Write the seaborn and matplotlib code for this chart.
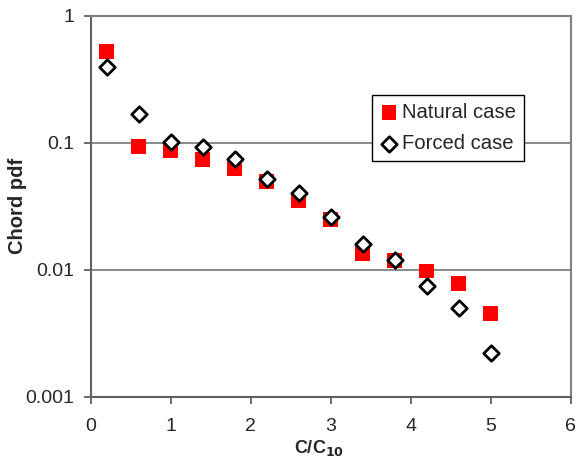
import matplotlib
matplotlib.use("Agg")
import matplotlib.pyplot as plt
import seaborn as sns
import pandas as pd
from matplotlib.ticker import FixedLocator, FixedFormatter, NullLocator

x_vals = [0.2, 0.6, 1.0, 1.4, 1.8, 2.2, 2.6, 3.0, 3.4, 3.8, 4.2, 4.6, 5.0]
natural = [0.527, 0.093, 0.0865, 0.0744, 0.063, 0.0494, 0.0353, 0.0251, 0.0135, 0.0118, 0.0098, 0.00786, 0.00456]
forced = [0.397, 0.170, 0.102, 0.093, 0.074, 0.0518, 0.0405, 0.0259, 0.0159, 0.0119, 0.00753, 0.0050, 0.00223]
series_names = ["Natural case", "Forced case"]
y_ticks = [0.001, 0.01, 0.1, 1]
y_tick_labels = ["0.001", "0.01", "0.1", "1"]
x_ticks = [0, 1, 2, 3, 4, 5, 6]

df = pd.concat([
    pd.DataFrame({"x": x_vals, "y": natural, "case": series_names[0]}),
    pd.DataFrame({"x": x_vals, "y": forced, "case": series_names[1]}),
])

sns.set_style("white")
plt.rcParams["font.family"] = ["Liberation Sans", "DejaVu Sans"]

fig = plt.figure(figsize=(5.76, 4.63), dpi=100)
ax = fig.add_axes([0.1575, 0.1426, 0.9910 - 0.1575, 0.966 - 0.1426])

ax.set_yscale("log")
ax.set_ylim(0.001, 1)
ax.set_xlim(0, 6)

for yv in [0.01, 0.1]:
    ax.axhline(yv, color="#808080", lw=1.3, zorder=0)

sns.scatterplot(data=df[df.case == series_names[0]], x="x", y="y", marker="s",
                color="#FF0000", s=115, edgecolor="none", linewidth=0,
                label=series_names[0], ax=ax, zorder=3)
sns.scatterplot(data=df[df.case == series_names[1]], x="x", y="y", marker="D",
                facecolor="white", edgecolor="black", s=62, linewidth=2,
                label=series_names[1], ax=ax, zorder=4)

ax.yaxis.set_major_locator(FixedLocator(y_ticks))
ax.yaxis.set_major_formatter(FixedFormatter(y_tick_labels))
ax.yaxis.set_minor_locator(NullLocator())
ax.set_xticks(x_ticks)
ax.set_xticklabels([str(v) for v in x_ticks])

ax.tick_params(axis="both", which="major", direction="out", length=5, width=1.3,
               color="#606060", labelsize=14, bottom=True, left=True)
ax.tick_params(axis="x", pad=10)
ax.tick_params(axis="y", pad=7)
for side in ["left", "bottom"]:
    ax.spines[side].set_color("#606060")
    ax.spines[side].set_linewidth(1.5)
for side in ["top", "right"]:
    ax.spines[side].set_color("#808080")
    ax.spines[side].set_linewidth(1.5)

ax.set_xlabel("C/C$_{\\mathbf{10}}$", fontsize=13, fontweight="bold")
ax.set_ylabel("Chord pdf", fontsize=14.5, fontweight="bold")
ax.xaxis.set_label_coords(0.4756, -0.108)
ax.yaxis.set_label_coords(-0.1327, 0.5)

leg = ax.legend(loc="upper left", bbox_to_anchor=((371.7 - 90.7) / 480, (397 - 95) / 381.3),
                frameon=True, fontsize=14.6, handletextpad=0.2, borderpad=0.4,
                handlelength=0.9, labelspacing=0.6, fancybox=False, borderaxespad=0)
leg.get_frame().set_edgecolor("black")
leg.get_frame().set_linewidth(1.0)
leg.get_frame().set_alpha(1)

fig.savefig("out.png", dpi=100)
